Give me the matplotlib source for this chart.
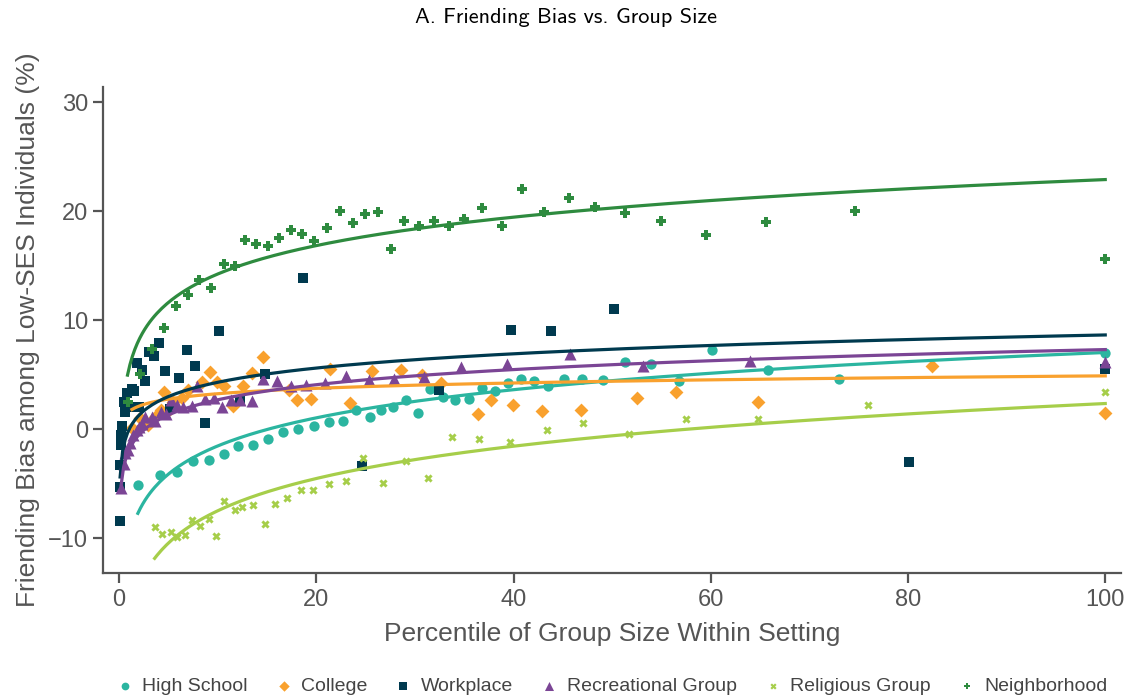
import matplotlib
matplotlib.use("Agg")
import matplotlib.pyplot as plt
import numpy as np

# Datos (percentil de tamaño de grupo, sesgo de amistad %)
groups = ["High School", "College", "Workplace", "Recreational Group",
          "Religious Group", "Neighborhood"]

hs_x = [1.9, 4.1, 5.85, 7.5, 9.1, 10.6, 12.1, 13.6, 15.1, 16.6, 18.1, 19.8, 21.3, 22.7,
        24.0, 25.4, 26.6, 27.8, 29.1, 30.3, 31.5, 32.8, 34.1, 35.5, 36.8, 38.1, 39.4,
        40.8, 42.1, 43.5, 45.1, 46.9, 49.1, 51.3, 53.9, 56.8, 60.1, 65.8, 73.0, 100]
hs_y = [-5.1, -4.2, -3.9, -2.9, -2.8, -2.3, -1.5, -1.4, -0.9, -0.25, 0.0, 0.3, 0.7, 0.8,
        1.75, 1.1, 1.75, 2.0, 2.65, 1.5, 3.7, 3.0, 2.65, 2.8, 3.8, 3.5, 4.25,
        4.6, 4.4, 3.95, 4.6, 4.6, 4.5, 6.2, 6.0, 4.45, 7.3, 5.4, 4.6, 7.0]

co_x = [1.3, 2.1, 2.9, 3.65, 4.2, 4.5, 5.2, 5.5, 6.4, 7.0, 8.4, 9.2, 9.9, 10.6, 11.5,
        12.6, 13.5, 14.6, 17.2, 18.0, 19.5, 21.4, 23.4, 25.6, 28.6, 30.7, 32.6, 36.4,
        37.7, 39.9, 42.9, 46.8, 52.5, 56.5, 64.8, 82.4, 100]
co_y = [0.1, 1.0, 0.35, 1.1, 1.75, 3.4, 1.9, 2.5, 2.9, 3.6, 4.3, 5.3, 4.3, 4.0, 2.1,
        4.0, 5.2, 6.6, 3.6, 2.7, 2.8, 5.5, 2.4, 5.35, 5.4, 4.95, 4.2, 1.4,
        2.65, 2.2, 1.7, 1.8, 2.9, 3.4, 2.5, 5.8, 1.5]

wp_x = [0.1, 0.1, 0.1, 0.15, 0.2, 0.3, 0.45, 0.6, 0.8, 1.0, 1.3, 1.5, 1.8, 2.0, 2.3,
        2.6, 3.0, 3.5, 4.0, 4.7, 5.2, 6.1, 6.9, 7.7, 8.7, 10.1, 12.3, 14.8, 18.6,
        24.6, 32.4, 39.7, 43.8, 50.2, 80.1, 100]
wp_y = [-8.4, -5.3, -3.3, -1.4, -0.55, 0.3, 2.5, 1.6, 3.3, 2.0, 3.7, 3.5, 6.1, 2.05, 5.4,
        4.4, 7.1, 6.7, 7.9, 5.35, 1.9, 4.7, 7.3, 5.8, 0.6, 9.0, 2.7, 5.1, 13.85,
        -3.4, 3.6, 9.1, 9.0, 11.0, -3.0, 5.5]

rg_x = [0.2, 0.5, 0.6, 0.95, 1.1, 1.45, 1.8, 2.0, 2.3, 2.6, 3.3, 3.65, 4.2, 4.8, 5.3,
        5.9, 6.5, 7.4, 7.9, 8.7, 9.6, 10.4, 11.3, 12.3, 13.5, 14.6, 16.0, 17.4, 19.0,
        20.9, 23.0, 25.3, 27.9, 30.9, 34.7, 39.3, 45.7, 53.1, 64.0, 100]
rg_y = [-5.4, -3.15, -2.2, -1.9, -1.3, -0.55, -0.1, 0.2, 0.5, 1.1, 1.1, 0.8, 1.6, 1.4,
        2.65, 2.2, 2.05, 2.1, 4.0, 2.8, 2.9, 2.05, 2.7, 2.7, 2.6, 4.65, 4.4, 3.95, 4.1,
        4.2, 4.85, 4.55, 4.6, 4.8, 5.7, 5.95, 6.9, 5.8, 6.3, 6.2]

rl_x = [3.6, 4.3, 5.3, 5.9, 6.7, 7.4, 8.2, 9.1, 9.8, 10.6, 11.7, 12.5, 13.6, 14.8, 15.8,
        17.0, 18.4, 19.7, 21.3, 23.0, 24.7, 26.8, 29.1, 31.3, 33.8, 36.5, 39.6, 43.4,
        47.0, 51.7, 57.5, 64.8, 75.9, 100]
rl_y = [-8.95, -9.6, -9.45, -9.9, -9.7, -8.3, -8.9, -8.2, -9.75, -6.55, -7.4, -7.1, -6.9,
        -8.7, -6.85, -6.3, -5.6, -5.6, -5.0, -4.7, -2.6, -4.9, -2.9, -4.5, -0.7, -0.85,
        -1.2, -0.1, 0.6, -0.45, 0.9, 0.9, 2.2, 3.4]

nb_x = [0.85, 2.07, 3.3, 4.5, 5.75, 6.97, 8.15, 9.36, 10.6, 11.7, 12.8, 13.9, 15.1, 16.2,
        17.4, 18.5, 19.8, 21.1, 22.4, 23.7, 24.9, 26.3, 27.6, 28.9, 30.4, 31.9, 33.5,
        35.0, 36.8, 38.8, 40.9, 43.1, 45.6, 48.3, 51.3, 54.9, 59.5, 65.6, 74.6, 100]
nb_y = [2.5, 5.1, 7.4, 9.3, 11.3, 12.3, 13.7, 13.0, 15.2, 15.0, 17.4, 17.0, 16.8, 17.5,
        18.3, 17.9, 17.3, 18.5, 20.0, 18.9, 19.7, 19.9, 16.5, 19.1, 18.6, 19.1, 18.65,
        19.3, 20.3, 18.65, 22.0, 19.9, 21.2, 20.4, 19.85, 19.1, 17.8, 19.0, 20.0, 15.6]

# Coeficientes del ajuste logarítmico (y = a + b*ln(x))
fit_a = [-10.09, 1.63, -0.03, -1.90, -17.30, 5.58]
fit_b = [3.72, 0.71, 1.885, 2.00, 4.27, 3.76]

# Estilos
colores = ["#2BB5A0", "#F9A12E", "#003A4F", "#7B4595", "#A6CE4A", "#2E8B3F"]
marcadores = ["o", "D", "s", "^", "X", "P"]
tamanos = [55, 50, 55, 75, 35, 45]

series = [(hs_x, hs_y), (co_x, co_y), (wp_x, wp_y), (rg_x, rg_y), (rl_x, rl_y), (nb_x, nb_y)]

fig = plt.figure(figsize=(11.32, 7.0), dpi=100)
ax = fig.add_axes([0.0913, 0.181, 0.899, 0.695])

gris = "#555555"
for (x, y), c, m, s, g in zip(series, colores, marcadores, tamanos, groups):
    ax.scatter(x, y, color=c, marker=m, s=s, linewidths=0, label=g, zorder=3)

# Curvas de ajuste
for (x, y), c, a, b in zip(series, colores, fit_a, fit_b):
    xs = np.linspace(min(x), max(x), 400)
    ax.plot(xs, a + b * np.log(xs), color=c, lw=2.3, zorder=4)

ax.set_xlim(-1.6, 101.6)
ax.set_ylim(-13.2, 31.4)
ax.set_xticks([0, 20, 40, 60, 80, 100])
ax.set_yticks([-10, 0, 10, 20, 30])

for lado in ["top", "right"]:
    ax.spines[lado].set_visible(False)
for lado in ["left", "bottom"]:
    ax.spines[lado].set_color(gris)
    ax.spines[lado].set_linewidth(1.6)

ax.tick_params(colors=gris, labelsize=17, length=7, width=1.6, pad=4)
for t in ax.get_xticklabels() + ax.get_yticklabels():
    t.set_family("Liberation Sans")

ax.set_xlabel("Percentile of Group Size Within Setting", fontsize=19, color=gris,
              family="Liberation Sans", labelpad=8)
ax.set_ylabel("Friending Bias among Low-SES Individuals (%)", fontsize=19, color=gris,
              family="Liberation Sans", labelpad=6)

fig.suptitle("A. Friending Bias vs. Group Size", y=0.988, fontsize=16, family="cmss10")

leg = ax.legend(loc="center", bbox_to_anchor=(0.5, -0.232), ncol=6, frameon=False,
                prop={"family": "Liberation Sans", "size": 14}, handlelength=0.8,
                handletextpad=0.5, columnspacing=1.45, markerscale=0.75)
for t in leg.get_texts():
    t.set_color("#444444")

fig.savefig("out.png", dpi=100, facecolor="white")
